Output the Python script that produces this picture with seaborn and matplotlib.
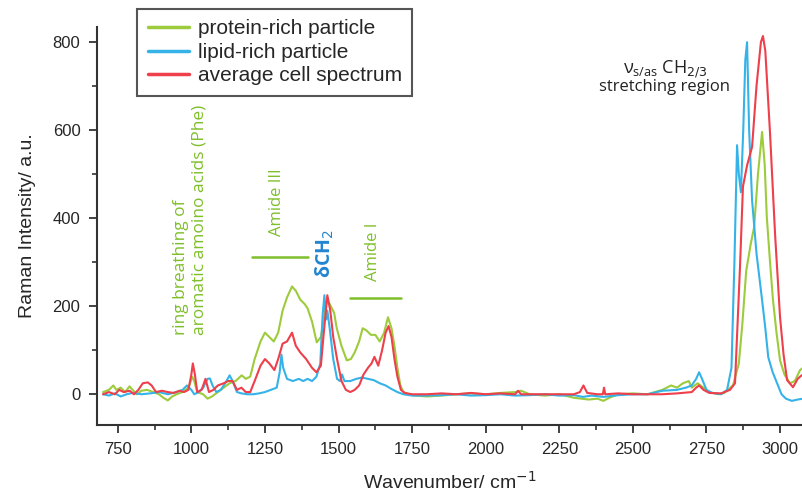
import matplotlib
matplotlib.use("Agg")
import matplotlib.pyplot as plt
from matplotlib.ticker import MultipleLocator
import seaborn as sns
import pandas as pd

# protein-rich particle (green)
protein_wn = [700, 720, 735, 745, 760, 775, 790, 800, 815, 830, 850, 870, 890, 905, 920, 935, 950, 970, 990,
              1003, 1010, 1020, 1040, 1055, 1070, 1090, 1110, 1130, 1150, 1171, 1185, 1200, 1215, 1235, 1250,
              1265, 1280, 1295, 1310, 1325, 1342, 1355, 1370, 1385, 1395, 1410, 1426, 1440, 1452, 1460, 1470,
              1485, 1494, 1510, 1528, 1542, 1555, 1570, 1582, 1595, 1610, 1625, 1640, 1655, 1668, 1680, 1690,
              1700, 1710, 1720, 1740, 1760, 1800, 1850, 1900, 1950, 2000, 2050, 2100, 2120, 2150, 2200, 2250,
              2300, 2350, 2380, 2400, 2420, 2450, 2500, 2550, 2600, 2630, 2650, 2670, 2690, 2700, 2720, 2740,
              2760, 2790, 2810, 2840, 2860, 2872, 2885, 2900, 2912, 2925, 2939, 2948, 2955, 2966, 2976, 2988,
              3000, 3015, 3034, 3050, 3068, 3078]
protein_int = [5, 10, 20, 10, 15, 5, 18, 10, 0, 8, 10, 5, 0, -8, -14, -5, 0, 5, 15,
               40, 30, 5, 0, -10, -5, 5, 15, 25, 30, 43, 35, 40, 80, 120, 140,
               130, 120, 140, 190, 220, 245, 235, 215, 205, 195, 165, 118, 130, 180, 214, 205,
               185, 150, 110, 77, 80, 95, 120, 150, 145, 135, 135, 120, 140, 175, 150, 110,
               60, 20, 5, 0, -3, -5, -3, 0, 2, 0, 3, 5, 8, 0, -3, 0,
               -8, -12, -10, -15, -8, 0, 2, 0, 10, 20, 15, 25, 30, 15, 25, 15,
               5, 0, 3, 20, 70, 160, 280, 340, 380, 500, 596, 520, 403, 300, 214, 140,
               77, 45, 25, 30, 55, 60]

# lipid-rich particle (blue)
lipid_wn = [700, 720, 740, 760, 780, 800, 830, 860, 890, 920, 950, 970, 985, 1000, 1010, 1025, 1040, 1055,
            1063, 1072, 1085, 1100, 1115, 1130, 1140, 1155, 1170, 1190, 1210, 1230, 1250, 1270, 1290, 1300,
            1306, 1312, 1325, 1345, 1365, 1380, 1395, 1410, 1425, 1438, 1446, 1452, 1458, 1462, 1470, 1482,
            1495, 1505, 1512, 1520, 1540, 1560, 1580, 1600, 1620, 1640, 1660, 1680, 1700, 1720, 1750, 1800,
            1850, 1900, 1950, 2000, 2050, 2100, 2150, 2200, 2250, 2300, 2330, 2360, 2400, 2450, 2500, 2550,
            2600, 2650, 2680, 2700, 2715, 2725, 2735, 2750, 2770, 2800, 2820, 2835, 2845, 2854, 2860, 2867,
            2875, 2882, 2888, 2895, 2905, 2920, 2939, 2950, 2960, 2975, 2990, 3005, 3020, 3040, 3060, 3078]
lipid_int = [0, -3, 2, -5, 0, 3, 0, 2, 5, 0, 5, 10, 20, 10, 0, 5, 15, 35,
             36, 20, 5, 10, 25, 43, 30, 5, 2, 0, 0, 2, 5, 10, 15, 50,
             90, 60, 35, 30, 35, 30, 35, 30, 40, 70, 180, 225, 170, 190, 150, 80,
             35, 30, 45, 30, 30, 35, 38, 35, 32, 25, 20, 12, 5, 0, -3, -3,
             -2, 0, -3, -2, 0, -3, -2, 0, -3, -2, -6, -3, -6, -2, 0, 0,
             8, 10, 15, 20, 35, 50, 35, 10, 3, 0, 10, 60, 300, 566, 500, 459,
             600, 760, 800, 600, 441, 320, 214, 150, 84, 50, 25, 0, -10, -15, -12, -10]

# average cell spectrum (red)
cell_wn = [700, 720, 740, 755, 770, 790, 805, 820, 835, 852, 865, 880, 900, 920, 940, 960, 975, 990, 1000,
           1005, 1012, 1020, 1035, 1048, 1060, 1075, 1090, 1110, 1125, 1140, 1155, 1170, 1185, 1200, 1215,
           1235, 1250, 1265, 1282, 1295, 1310, 1325, 1342, 1355, 1370, 1390, 1410, 1425, 1440, 1450, 1462,
           1472, 1482, 1495, 1510, 1525, 1540, 1555, 1570, 1585, 1600, 1612, 1622, 1635, 1648, 1660, 1670,
           1680, 1690, 1700, 1712, 1725, 1750, 1800, 1850, 1900, 1950, 2000, 2050, 2100, 2110, 2120, 2200,
           2300, 2320, 2332, 2345, 2380, 2398, 2402, 2406, 2450, 2500, 2600, 2650, 2700, 2715, 2725, 2740,
           2760, 2800, 2830, 2847, 2864, 2874, 2888, 2905, 2920, 2935, 2942, 2950, 2966, 2983, 3000, 3012,
           3024, 3044, 3060, 3068, 3078]
cell_int = [0, 5, 0, 10, 5, 8, 0, 10, 25, 27, 20, 5, 8, 5, 3, 8, 5, 10, 45,
            70, 45, 5, 10, 35, 5, 10, 20, 25, 30, 30, 10, 15, 5, 5, 30,
            65, 80, 70, 55, 80, 115, 120, 140, 110, 95, 80, 60, 50, 65, 140, 225,
            190, 130, 80, 30, 10, 5, 10, 20, 45, 60, 70, 85, 65, 100, 140, 155,
            130, 80, 40, 10, 3, 0, 0, 2, 0, 3, 0, 2, 0, 8, 0, 0,
            0, 5, 20, 3, 0, 0, 15, 0, 2, 0, 0, 2, 5, 15, 20, 10,
            3, 2, 10, 25, 290, 472, 520, 562, 700, 800, 814, 780, 593, 365, 175, 90,
            32, 16, 35, 40, 45]

series_names = ["protein-rich particle", "lipid-rich particle", "average cell spectrum"]
series_colors = ["#9dcb3c", "#35b3e8", "#ee3f4b"]

df = pd.concat([
    pd.DataFrame({"wn": protein_wn, "intensity": protein_int, "series": series_names[0]}),
    pd.DataFrame({"wn": lipid_wn, "intensity": lipid_int, "series": series_names[1]}),
    pd.DataFrame({"wn": cell_wn, "intensity": cell_int, "series": series_names[2]}),
])

sns.set_style("ticks")
plt.rcParams["font.family"] = ["Liberation Sans", "DejaVu Sans"]

fig = plt.figure(figsize=(8.03, 4.96), dpi=100)
ax = fig.add_axes([0.121, 0.143, 0.879, 0.803])

sns.lineplot(data=df, x="wn", y="intensity", hue="series", palette=series_colors,
             hue_order=series_names, estimator=None, linewidth=1.5, ax=ax, legend=False)

ax.set_xlim(680, 3078)
ax.set_ylim(-70, 835)
ax.xaxis.set_minor_locator(MultipleLocator(125))
ax.yaxis.set_minor_locator(MultipleLocator(100))
ax.set_yticks([0, 200, 400, 600, 800])
ax.set_xticks([750, 1000, 1250, 1500, 1750, 2000, 2250, 2500, 2750, 3000])
ax.tick_params(which="major", length=6, width=1.3, labelsize=12, color="#333333", pad=6)
ax.tick_params(which="minor", length=3.5, width=1.2, color="#333333")
sns.despine(ax=ax)
for s in ["left", "bottom"]:
    ax.spines[s].set_linewidth(1.5)
    ax.spines[s].set_color("#333333")

ax.set_xlabel("Wavenumber/ cm$^{-1}$", fontsize=14, labelpad=10)
ax.set_ylabel("Raman Intensity/ a.u.", fontsize=14, labelpad=12)

# legend
handles = [plt.Line2D([], [], color=c, linewidth=2.5) for c in series_colors]
leg = ax.legend(handles, series_names, loc="upper left", bbox_to_anchor=(0.057, 1.045),
                borderaxespad=0, fontsize=15, frameon=True, fancybox=False, framealpha=1,
                edgecolor="#555555", handlelength=2.0, labelspacing=0.22, borderpad=0.5,
                handletextpad=0.4)
leg.get_frame().set_linewidth(1.5)

# annotations
ann_green = "#7fbf2a"
ann_blue = "#2185d0"
ax.text(995, 134, "ring breathing of\naromatic amoino acids (Phe)", rotation=90, ha="center",
        va="bottom", multialignment="left", color=ann_green, fontsize=12.5, family=["Open Sans"])
ax.text(1290, 436, "Amide III", rotation=90, ha="center", va="center", color=ann_green,
        fontsize=12, family=["Open Sans"])
ax.plot([1206, 1396], [311, 311], color=ann_green, linewidth=1.8)
ax.text(1453, 320, "δCH$_2$", rotation=90, ha="center", va="center", color=ann_blue,
        fontsize=14, fontweight="bold", family=["Open Sans", "DejaVu Sans"])
ax.text(1617, 323, "Amide I", rotation=90, ha="center", va="center", color=ann_green,
        fontsize=12, family=["Open Sans"])
ax.plot([1539, 1712], [218, 218], color=ann_green, linewidth=1.8)
ax.text(2609, 738, r"$\mathregular{\nu_{s/as}}$ CH$_{2/3}$", ha="center", va="center",
        color="#222222", fontsize=13, family=["Open Sans"])
ax.text(2609, 698, "stretching region", ha="center", va="center", color="#222222",
        fontsize=12, family=["Open Sans"])

fig.savefig("out.png", dpi=100)
